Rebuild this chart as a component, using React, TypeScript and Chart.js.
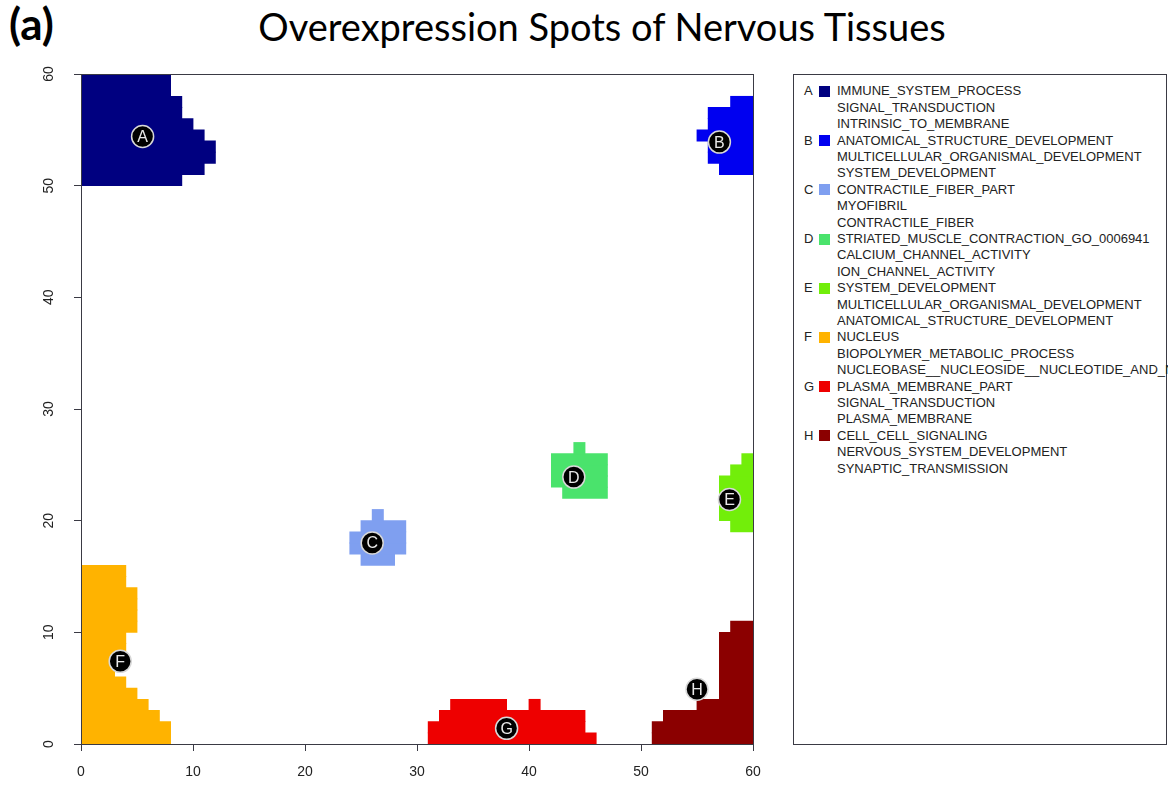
import React, { useEffect, useRef } from "react";
import { Chart, registerables } from "chart.js";

Chart.register(...registerables);

// ---- data ----
const spotLetters = ["A", "B", "C", "D", "E", "F", "G", "H"];
const spotColors = ["#000080", "#0000f0", "#7f9ff0", "#4ae36c", "#72ee0a", "#ffb300", "#ee0000", "#8b0000"];

// each row: [row (lower y), x start, x end]
const spotA = [[50, 0, 9], [51, 0, 11], [52, 0, 12], [53, 0, 12], [54, 0, 11], [55, 0, 10], [56, 0, 9], [57, 0, 9], [58, 0, 8], [59, 0, 8]];
const spotB = [[51, 57, 60], [52, 56, 60], [53, 56, 60], [54, 55, 60], [55, 56, 60], [56, 56, 60], [57, 58, 60]];
const spotC = [[16, 25, 28], [17, 24, 29], [18, 24, 29], [19, 25, 29], [20, 26, 27]];
const spotD = [[22, 43, 47], [23, 42, 47], [24, 42, 47], [25, 42, 47], [26, 44, 45]];
const spotE = [[19, 58, 60], [20, 57, 60], [21, 57, 60], [22, 57, 60], [23, 57, 60], [24, 58, 60], [25, 59, 60]];
const spotF = [[0, 0, 8], [1, 0, 8], [2, 0, 7], [3, 0, 6], [4, 0, 5], [5, 0, 4], [6, 0, 3], [7, 0, 4], [8, 0, 4], [9, 0, 4], [10, 0, 5], [11, 0, 5], [12, 0, 5], [13, 0, 5], [14, 0, 4], [15, 0, 4]];
const spotG = [[0, 31, 46], [1, 31, 45], [2, 32, 45], [3, 33, 38], [3, 40, 41]];
const spotH = [[0, 51, 60], [1, 51, 60], [2, 52, 60], [3, 55, 60], [4, 57, 60], [5, 57, 60], [6, 57, 60], [7, 57, 60], [8, 57, 60], [9, 57, 60], [10, 58, 60]];
const spotRows = [spotA, spotB, spotC, spotD, spotE, spotF, spotG, spotH];

// label marker positions
const markerX = [5.5, 57, 26, 44, 57.9, 3.5, 38, 55];
const markerY = [54.4, 53.9, 18, 23.9, 21.9, 7.4, 1.4, 4.9];

const axisTicks = [0, 10, 20, 30, 40, 50, 60];

const legendTerms = [
  ["IMMUNE_SYSTEM_PROCESS", "SIGNAL_TRANSDUCTION", "INTRINSIC_TO_MEMBRANE"],
  ["ANATOMICAL_STRUCTURE_DEVELOPMENT", "MULTICELLULAR_ORGANISMAL_DEVELOPMENT", "SYSTEM_DEVELOPMENT"],
  ["CONTRACTILE_FIBER_PART", "MYOFIBRIL", "CONTRACTILE_FIBER"],
  ["STRIATED_MUSCLE_CONTRACTION_GO_0006941", "CALCIUM_CHANNEL_ACTIVITY", "ION_CHANNEL_ACTIVITY"],
  ["SYSTEM_DEVELOPMENT", "MULTICELLULAR_ORGANISMAL_DEVELOPMENT", "ANATOMICAL_STRUCTURE_DEVELOPMENT"],
  ["NUCLEUS", "BIOPOLYMER_METABOLIC_PROCESS", "NUCLEOBASE__NUCLEOSIDE__NUCLEOTIDE_AND_NUCLEIC_ACID_METABOLIC_PROCESS"],
  ["PLASMA_MEMBRANE_PART", "SIGNAL_TRANSDUCTION", "PLASMA_MEMBRANE"],
  ["CELL_CELL_SIGNALING", "NERVOUS_SYSTEM_DEVELOPMENT", "SYNAPTIC_TRANSMISSION"],
];

const titleText = "Overexpression Spots of Nervous Tissues";
const panelLabel = "(a)";

const AXIS_COLOR = "#3a3a44";
const TICK_FONT = { family: "'Liberation Sans', Arial, sans-serif", size: 14 };

const framePlugin = {
  id: "frameAndLetters",
  afterDatasetsDraw(chart: any) {
    const { ctx, chartArea } = chart;
    const { left, top, right, bottom } = chartArea;
    ctx.save();
    ctx.strokeStyle = AXIS_COLOR;
    ctx.lineWidth = 1;
    ctx.strokeRect(Math.round(left) + 0.5, Math.round(top) + 0.5, Math.round(right - left), Math.round(bottom - top));
    ctx.restore();

    const idx = chart.data.datasets.findIndex((d: any) => d.type === "scatter");
    const meta = chart.getDatasetMeta(idx);
    ctx.save();
    ctx.fillStyle = "#e8e8e8";
    ctx.font = "16px 'Liberation Sans', Arial, sans-serif";
    ctx.textAlign = "center";
    ctx.textBaseline = "middle";
    meta.data.forEach((pt: any, i: number) => {
      ctx.fillText(spotLetters[i], pt.x, pt.y + 1);
    });
    ctx.restore();
  },
};

function ChartCanvas() {
  const ref = useRef<HTMLCanvasElement | null>(null);
  useEffect(() => {
    if (!ref.current) return;
    const barDatasets = spotRows.map((rows, s) => ({
      type: "bar" as const,
      label: spotLetters[s],
      indexAxis: "y" as const,
      grouped: false,
      data: rows.map((r) => ({ y: r[0] + 0.5, x: [r[1], r[2]] })),
      backgroundColor: spotColors[s],
      borderWidth: 0,
      barPercentage: 1,
      categoryPercentage: 1,
      inflateAmount: 0.4,
    }));
    const markerDataset = {
      type: "scatter" as const,
      label: "markers",
      order: -1,
      data: markerX.map((x, i) => ({ x, y: markerY[i] })),
      pointRadius: 11,
      pointHoverRadius: 11,
      pointBackgroundColor: "#000000",
      pointBorderColor: "#d8d8d8",
      pointBorderWidth: 1.5,
      showLine: false,
    };
    const chart = new Chart(ref.current, {
      type: "scatter",
      data: { datasets: [...barDatasets, markerDataset] as any },
      options: {
        responsive: false,
        animation: false,
        events: [],
        layout: { padding: { left: 0, top: 74, right: 37, bottom: 0 } },
        plugins: { legend: { display: false }, tooltip: { enabled: false }, title: { display: false } },
        scales: {
          x: {
            type: "linear",
            min: 0,
            max: 60,
            offset: false,
            afterBuildTicks: (scale: any) => {
              scale.ticks = axisTicks.map((v) => ({ value: v }));
            },
            afterFit: (scale: any) => {
              scale.height = 43;
            },
            grid: { display: true, drawOnChartArea: false, drawTicks: true, tickLength: 7, color: AXIS_COLOR, offset: false },
            border: { display: false },
            ticks: { color: "#222", font: TICK_FONT, padding: 13, maxRotation: 0, autoSkip: false },
          },
          y: {
            type: "linear",
            min: 0,
            max: 60,
            offset: false,
            afterBuildTicks: (scale: any) => {
              scale.ticks = axisTicks.map((v) => ({ value: v }));
            },
            afterFit: (scale: any) => {
              scale.width = 81;
            },
            grid: { display: true, drawOnChartArea: false, drawTicks: true, tickLength: 7, color: AXIS_COLOR, offset: false },
            border: { display: false },
            ticks: { color: "#222", font: TICK_FONT, padding: 17, minRotation: 90, maxRotation: 90, crossAlign: "center", autoSkip: false },
          },
        },
      },
      plugins: [framePlugin],
    } as any);
    return () => chart.destroy();
  }, []);
  return <canvas ref={ref} width={790} height={787} style={{ position: "absolute", left: 0, top: 0 }} />;
}

function Legend() {
  const lines: { letter: string; color: string | null; text: string }[] = [];
  legendTerms.forEach((terms, s) => {
    terms.forEach((t, j) => {
      lines.push({ letter: j === 0 ? spotLetters[s] : "", color: j === 0 ? spotColors[s] : null, text: t });
    });
  });
  return (
    <div
      style={{
        position: "absolute",
        left: 793,
        top: 74,
        width: 374,
        height: 671,
        border: "1px solid " + AXIS_COLOR,
        boxSizing: "border-box",
        fontFamily: "'Liberation Sans', Arial, sans-serif",
        fontSize: 13,
        color: "#222",
      }}
    >
      {lines.map((ln, i) => (
        <div key={i} style={{ position: "absolute", top: 8.3 + i * 16.4, left: 0, height: 16.4, lineHeight: "16.4px", whiteSpace: "nowrap" }}>
          <span style={{ position: "absolute", left: 10 }}>{ln.letter}</span>
          {ln.color && (
            <span style={{ position: "absolute", left: 25, top: 2.7, width: 11, height: 11, background: ln.color }} />
          )}
          <span style={{ position: "absolute", left: 43 }}>{ln.text}</span>
        </div>
      ))}
    </div>
  );
}

export default function App() {
  return (
    <div style={{ position: "absolute", left: 0, top: 0, width: 1168, height: 787, overflow: "hidden", background: "#fff" }}>
      <div
        style={{
          position: "absolute",
          left: 9,
          top: -3,
          fontFamily: "Lato, 'Open Sans', sans-serif",
          fontWeight: 700,
          fontSize: 44,
          lineHeight: "53px",
          color: "#000",
        }}
      >
        {panelLabel}
      </div>
      <div
        style={{
          position: "absolute",
          left: 602,
          top: 3,
          transform: "translateX(-50%)",
          whiteSpace: "nowrap",
          fontFamily: "Lato, 'Open Sans', sans-serif",
          fontSize: 38,
          lineHeight: "46px",
          color: "#000",
        }}
      >
        {titleText}
      </div>
      <ChartCanvas />
      <Legend />
    </div>
  );
}
